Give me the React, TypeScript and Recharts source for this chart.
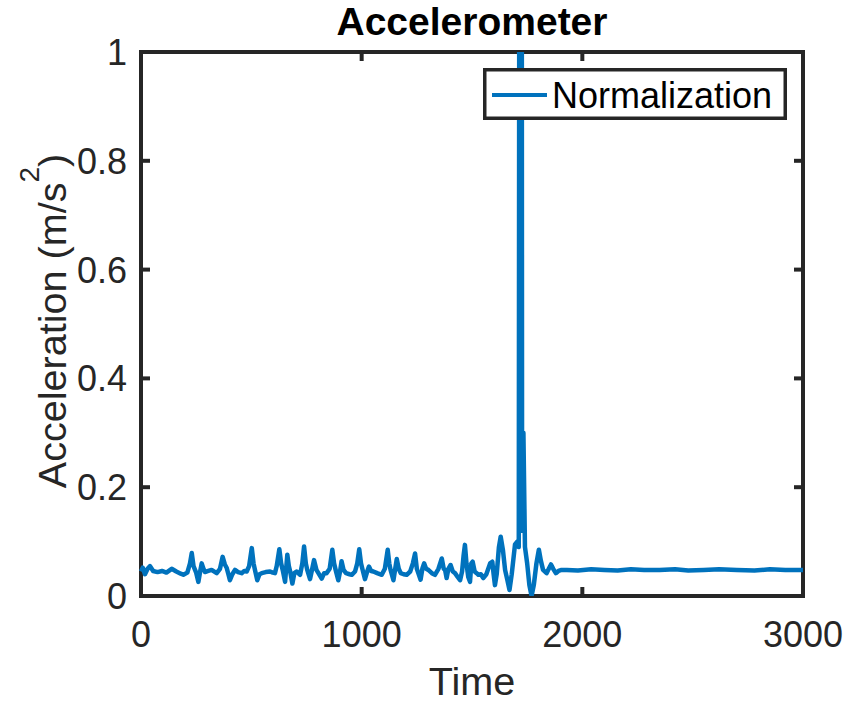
import React from 'react';
import { LineChart, Line, XAxis, YAxis, ReferenceArea, Legend } from 'recharts';

// ---- data ----
const TIMES = [
  0, 8, 18, 30, 41, 55, 75, 95, 115, 139, 160, 180, 192, 210, 222, 230, 238, 250, 260, 268,
  275, 283, 290, 305, 320, 343, 358, 370, 380, 388, 396, 403, 414, 426, 440, 456, 468, 479, 490, 502,
  510, 517, 527, 537, 547, 565, 585, 597, 607, 615, 627, 635, 642, 653, 663, 670, 675, 686, 695, 705,
  721, 731, 739, 747, 754, 766, 776, 784, 795, 804, 819, 830, 841, 855, 867, 875, 882, 894, 902, 909,
  918, 929, 945, 955, 970, 980, 989, 997, 1005, 1015, 1025, 1033, 1043, 1053, 1070, 1091, 1105, 1118, 1125, 1131,
  1144, 1152, 1159, 1168, 1177, 1190, 1204, 1220, 1232, 1242, 1250, 1257, 1267, 1275, 1283, 1292, 1302, 1318, 1332, 1348,
  1363, 1372, 1378, 1385, 1393, 1403, 1413, 1423, 1435, 1446, 1455, 1462, 1468, 1475, 1483, 1491, 1497, 1503, 1512, 1521,
  1529, 1540, 1551, 1565, 1582, 1592, 1598, 1604, 1612, 1622, 1630, 1640, 1650, 1660, 1670, 1680, 1695, 1705, 1712, 1720,
  1722, 1727, 1733, 1740, 1750, 1760, 1770, 1780, 1792, 1803, 1812, 1822, 1838, 1848, 1858, 1868, 1880, 1892, 1906, 1930,
  1980, 2040, 2100, 2160, 2220, 2280, 2350, 2420, 2480, 2550, 2620, 2700, 2780, 2850, 2920, 3000,
];
const VALUES = [
  0.045, 0.052, 0.04, 0.05, 0.055, 0.046, 0.044, 0.046, 0.043, 0.05, 0.045, 0.041, 0.039, 0.043, 0.06, 0.079, 0.055, 0.043, 0.026, 0.045,
  0.06, 0.05, 0.044, 0.046, 0.048, 0.042, 0.05, 0.072, 0.058, 0.052, 0.04, 0.029, 0.04, 0.048, 0.044, 0.042, 0.046, 0.045, 0.055, 0.088,
  0.06, 0.047, 0.029, 0.04, 0.042, 0.044, 0.045, 0.043, 0.042, 0.055, 0.086, 0.06, 0.048, 0.026, 0.076, 0.055, 0.047, 0.023, 0.042, 0.045,
  0.039, 0.06, 0.091, 0.06, 0.047, 0.031, 0.05, 0.066, 0.048, 0.042, 0.032, 0.042, 0.042, 0.05, 0.085, 0.06, 0.048, 0.029, 0.045, 0.064,
  0.048, 0.042, 0.04, 0.039, 0.045, 0.06, 0.086, 0.06, 0.047, 0.031, 0.045, 0.054, 0.046, 0.045, 0.042, 0.039, 0.05, 0.085, 0.06, 0.048,
  0.029, 0.05, 0.068, 0.05, 0.042, 0.04, 0.039, 0.045, 0.06, 0.078, 0.05, 0.042, 0.03, 0.05, 0.06, 0.05, 0.048, 0.042, 0.039, 0.05,
  0.069, 0.05, 0.048, 0.033, 0.05, 0.057, 0.045, 0.042, 0.035, 0.029, 0.045, 0.075, 0.094, 0.06, 0.035, 0.026, 0.06, 0.063, 0.045, 0.042,
  0.039, 0.04, 0.033, 0.04, 0.06, 0.063, 0.04, 0.02, 0.04, 0.09, 0.109, 0.085, 0.048, 0.03, 0.011, 0.04, 0.095, 0.1, 0.09, 4.0,
  4.0, 0.12, 0.3, 0.09, 0.06, 0.02, 0.0, 0.02, 0.06, 0.085, 0.065, 0.048, 0.042, 0.05, 0.058, 0.05, 0.042, 0.046, 0.048, 0.048,
  0.047, 0.049, 0.048, 0.047, 0.049, 0.048, 0.048, 0.049, 0.047, 0.048, 0.049, 0.048, 0.047, 0.049, 0.048, 0.048,
];
const X_TICKS = [0, 1000, 2000, 3000];
const Y_TICKS = [0, 0.2, 0.4, 0.6, 0.8, 1];
const SERIES_NAME = 'Normalization';
const TITLE = 'Accelerometer';
const X_LABEL = 'Time';
const Y_LABEL_MAIN = 'Acceleration (m/s';
const Y_LABEL_SUP = '2';
const Y_LABEL_END = ')';

const data = TIMES.map((t, i) => ({ t, v: VALUES[i] }));

// ---- layout ----
const W = 850;
const H = 702;
const PL = 141;
const PR = 803;
const PT = 52;
const PB = 596;
const YW = 80;
const XH = 60;
const FONT = '"Liberation Sans", Arial, Helvetica, sans-serif';
const AX = '#262626';
const BLUE = '#0072BD';
const TICK_LEN = 9;
const TICK_FS = 36;
const LABEL_FS = 39.6;

function YTick(props: any) {
  const { payload } = props;
  const y = payload.coordinate;
  return (
    <g>
      <text x={PL - 14} y={y} dy={13} textAnchor="end" fontSize={TICK_FS} fill={AX} fontFamily={FONT}>
        {String(payload.value)}
      </text>
      <line x1={PL} x2={PL + TICK_LEN} y1={y} y2={y} stroke={AX} strokeWidth={4} />
      <line x1={PR - TICK_LEN} x2={PR} y1={y} y2={y} stroke={AX} strokeWidth={4} />
    </g>
  );
}

function XTick(props: any) {
  const { payload } = props;
  const x = payload.coordinate;
  return (
    <g>
      <text x={x} y={PB + 51} textAnchor="middle" fontSize={TICK_FS} fill={AX} fontFamily={FONT}>
        {String(payload.value)}
      </text>
      <line x1={x} x2={x} y1={PB} y2={PB - TICK_LEN} stroke={AX} strokeWidth={4} />
      <line x1={x} x2={x} y1={PT} y2={PT + TICK_LEN} stroke={AX} strokeWidth={4} />
    </g>
  );
}

function XLabel(props: any) {
  const vb = props.viewBox || {};
  const cx = (vb.x ?? PL) + (vb.width ?? PR - PL) / 2;
  return (
    <text x={cx} y={PB + 99} textAnchor="middle" fontSize={LABEL_FS} fill={AX} fontFamily={FONT}>
      {X_LABEL}
    </text>
  );
}

function YLabel(props: any) {
  const vb = props.viewBox || {};
  const cy = (vb.y ?? PT) + (vb.height ?? PB - PT) / 2 - 3;
  const cx = 66;
  return (
    <text
      x={cx}
      y={cy}
      textAnchor="middle"
      fontSize={LABEL_FS}
      fill={AX}
      fontFamily={FONT}
      transform={`rotate(-90, ${cx}, ${cy})`}
    >
      {Y_LABEL_MAIN}
      <tspan fontSize={28} dy={-27}>{Y_LABEL_SUP}</tspan>
      <tspan dy={27}>{Y_LABEL_END}</tspan>
    </text>
  );
}

function LegendBox() {
  return (
    <svg width={304} height={52} style={{ display: 'block' }}>
      <rect x={1.75} y={1.75} width={300.5} height={48.5} fill="#ffffff" stroke={AX} strokeWidth={3.5} />
      <line x1={9} x2={64} y1={27} y2={27} stroke={BLUE} strokeWidth={4} />
      <text x={69} y={40} fontSize={TICK_FS} fill="#000" fontFamily={FONT}>
        {SERIES_NAME}
      </text>
    </svg>
  );
}

export default function App() {
  return (
    <div style={{ position: 'absolute', left: 0, top: 0, width: W, height: H, background: '#fff' }}>
      <LineChart
        width={W}
        height={H}
        data={data}
        margin={{ top: PT, right: W - PR, bottom: H - PB - XH, left: PL - YW }}
      >
        <XAxis
          dataKey="t"
          type="number"
          domain={[0, 3000]}
          ticks={X_TICKS}
          axisLine={false}
          tickLine={false}
          tick={<XTick />}
          height={XH}
          interval={0}
          label={{ content: <XLabel /> }}
        />
        <YAxis
          type="number"
          domain={[0, 1]}
          ticks={Y_TICKS}
          allowDataOverflow
          axisLine={false}
          tickLine={false}
          tick={<YTick />}
          width={YW}
          interval={0}
          label={{ content: <YLabel /> }}
        />
        <ReferenceArea x1={0} x2={3000} y1={0} y2={1} fill="none" stroke={AX} strokeWidth={4} ifOverflow="visible" />
        <Line
          type="linear"
          dataKey="v"
          name={SERIES_NAME}
          stroke={BLUE}
          strokeWidth={4.5}
          dot={false}
          activeDot={false}
          isAnimationActive={false}
          strokeLinejoin="round"
        />
        <Legend
          layout="horizontal"
          verticalAlign="middle"
          align="center"
          wrapperStyle={{ position: 'absolute', left: 483, top: 68, width: 304, height: 52 }}
          content={<LegendBox />}
        />
      </LineChart>
      <svg width={W} height={50} style={{ position: 'absolute', left: 0, top: 0, pointerEvents: 'none' }}>
        <text x={(PL + PR) / 2} y={35} textAnchor="middle" fontSize={39} fontWeight="bold" fill="#000" fontFamily={FONT}>
          {TITLE}
        </text>
      </svg>
    </div>
  );
}
